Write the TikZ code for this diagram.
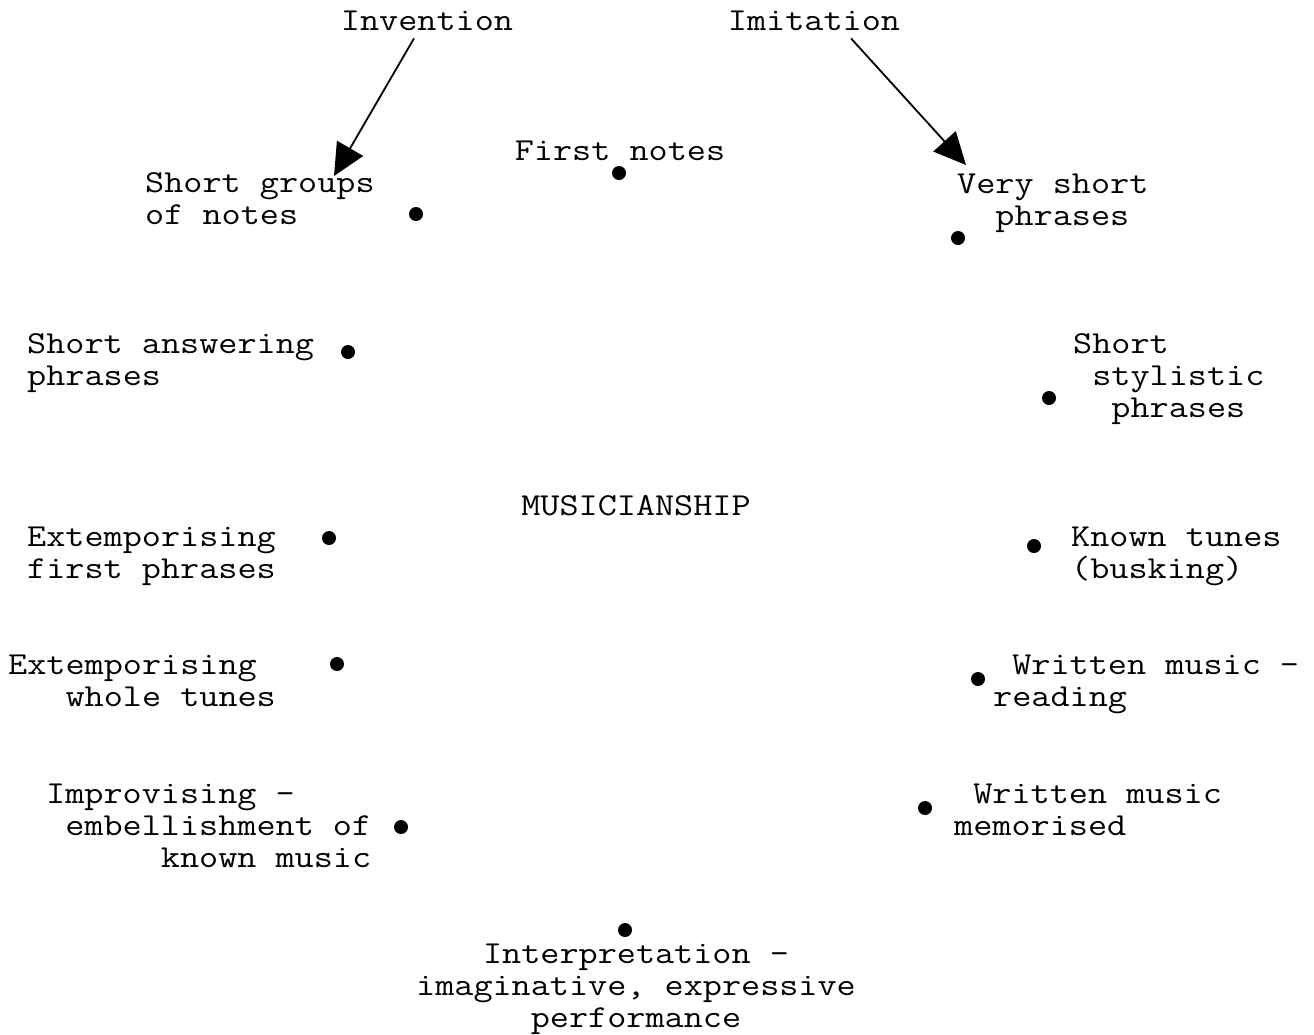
\documentclass[tikz,border=0pt]{standalone}
\usetikzlibrary{arrows.meta}
\tikzset{
  stage/.style={font=\fontsize{32}{32}\selectfont\ttfamily, inner sep=0pt, xscale=1.16, transform shape, align=left, anchor=base west},
  dot/.style={circle, fill=black, inner sep=0pt, minimum size=14pt},
  pointer/.style={-{Triangle[length=32pt,width=30pt]}, line width=1.8pt},
}
\begin{document}
\begin{tikzpicture}[x=1pt,y=1pt]
	\useasboundingbox (0,0) rectangle (1314,-1034);
	% the two roads
	\node[stage,anchor=base,align=center] (invention) at (427,-30) {Invention};
	\node[stage,anchor=base,align=center] (imitation) at (814,-30) {Imitation};
	\coordinate (invtip) at (334,-176);
	\coordinate (imitip) at (966,-165);
	\draw[pointer] ([xshift=-13pt,yshift=-8pt]invention.south) -- (invtip);
	\draw[pointer] ([xshift=37pt,yshift=-8pt]imitation.south) -- (imitip);
	% stages (placed by the baseline of the last line)
	\node[stage,anchor=base,align=center] (first) at (620,-160) {First notes};
	\node[stage] (groups) at (145,-224) {Short groups\\of notes};
	\node[stage] (veryshort) at (957,-225) {Very short\\~~phrases};
	\node[stage] (answering) at (27,-385) {Short answering\\phrases};
	\node[stage] (stylistic) at (1073,-417) {Short\\~stylistic\\~~phrases};
	\node[stage,anchor=base,align=center] (music) at (636,-515) {MUSICIANSHIP};
	\node[stage] (firstphr) at (27,-578) {Extemporising\\first phrases};
	\node[stage] (known) at (1071,-578) {Known tunes\\(busking)};
	\node[stage] (whole) at (8,-706) {Extemporising\\~~~whole tunes};
	\node[stage] (reading) at (993,-706) {~Written music -\\reading};
	\node[stage] (improv) at (46,-867) {Improvising -\\~embellishment of\\~~~~~~known music};
	\node[stage] (memor) at (954,-835) {~Written music\\memorised};
	\node[stage,anchor=base,align=center] (interp) at (636,-1027) {Interpretation -\\imaginative, expressive\\performance};
	% dots
	\node[dot] (d1) at (619,-173) {};
	\node[dot] (d2) at (416,-214) {};
	\node[dot] (d3) at (958,-238) {};
	\node[dot] (d4) at (348,-352) {};
	\node[dot] (d5) at (1049,-398) {};
	\node[dot] (d6) at (329,-538) {};
	\node[dot] (d7) at (1034,-546) {};
	\node[dot] (d8) at (337,-664) {};
	\node[dot] (d9) at (978,-679) {};
	\node[dot] (d10) at (401,-827) {};
	\node[dot] (d11) at (925,-808) {};
	\node[dot] (d12) at (625,-930) {};
\end{tikzpicture}
\end{document}
